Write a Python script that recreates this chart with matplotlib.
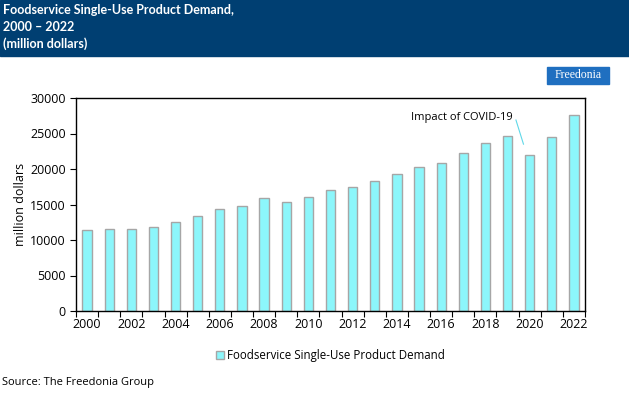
import matplotlib.pyplot as plt
from matplotlib.patches import Rectangle

# data
years = list(range(2000, 2023))
demand = [11400, 11600, 11600, 11900, 12600, 13400, 14350, 14850, 15850, 15400,
          16000, 17050, 17450, 18350, 19350, 20300, 20850, 22250, 23600, 24700,
          22000, 24450, 27650]
yticks = [0, 5000, 10000, 15000, 20000, 25000, 30000]
series_name = 'Foodservice Single-Use Product Demand'

plt.rcParams['font.family'] = ['Open Sans', 'DejaVu Sans']

fig = plt.figure(figsize=(6.29, 3.97), dpi=100)
W, H = 629, 397

# header band
fig.patches.append(Rectangle((0, 1 - 56 / H), 1, 56 / H, transform=fig.transFigure,
                             color='#003f72', zorder=0))
title_lines = ['Foodservice Single-Use Product Demand,', '2000 \u2013 2022', '(million dollars)']
for k, line in enumerate(title_lines):
    fig.text(3 / W, 1 - (10 + 17 * k) / H, line, color='white', fontsize=9,
             fontweight='bold', family='Lato', va='center', ha='left')

# logo
fig.patches.append(Rectangle((547 / W, 1 - 84 / H), 62 / W, 17 / H,
                             transform=fig.transFigure, color='#1f6fc0', zorder=1))
fig.text(578 / W, 1 - 75 / H, 'Freedonia', color='white', fontsize=8.5,
         family='Liberation Serif', ha='center', va='center', zorder=2)

ax = fig.add_axes([76 / W, 1 - 311 / H, 509 / W, 213 / H])
x = list(range(len(years)))
ax.bar(x, demand, width=0.42, color='#8cf6fb', edgecolor='#a6a6a6', linewidth=1,
       label=series_name, zorder=2)
ax.set_xlim(-0.5, len(years) - 0.5)
ax.set_ylim(0, 30000)
ax.set_yticks(yticks)
ax.set_yticklabels([str(v) for v in yticks], fontsize=9)
ax.set_xticks([i - 0.5 for i in range(len(years) + 1)])
ax.set_xticklabels([])
ax.set_xticks(x[::2], minor=True)
ax.set_xticklabels([str(y) for y in years[::2]], minor=True, fontsize=9)
ax.tick_params(axis='x', which='minor', length=0, pad=5)
ax.tick_params(axis='x', which='major', length=4, direction='out')
ax.tick_params(axis='y', length=4, direction='out')
for s in ax.spines.values():
    s.set_linewidth(1)
    s.set_color('black')
ax.set_ylabel('million dollars', fontsize=9, labelpad=2)

# COVID note with a thin leader line
ax.text(19.25, 27300, 'Impact of COVID-19', fontsize=8, ha='right', va='center')
ax.plot([19.38, 19.72], [26900, 23500], color='#5fd8e8', lw=0.8, zorder=3)

ax.legend(loc='upper center', bbox_to_anchor=(0.5, -0.13), frameon=False,
          fontsize=8.3, handlelength=0.7, handleheight=0.7, handletextpad=0.3)

fig.text(2 / W, 1 - 382 / H, 'Source: The Freedonia Group', fontsize=8,
         va='center', ha='left')

fig.savefig('out.png', dpi=100)
